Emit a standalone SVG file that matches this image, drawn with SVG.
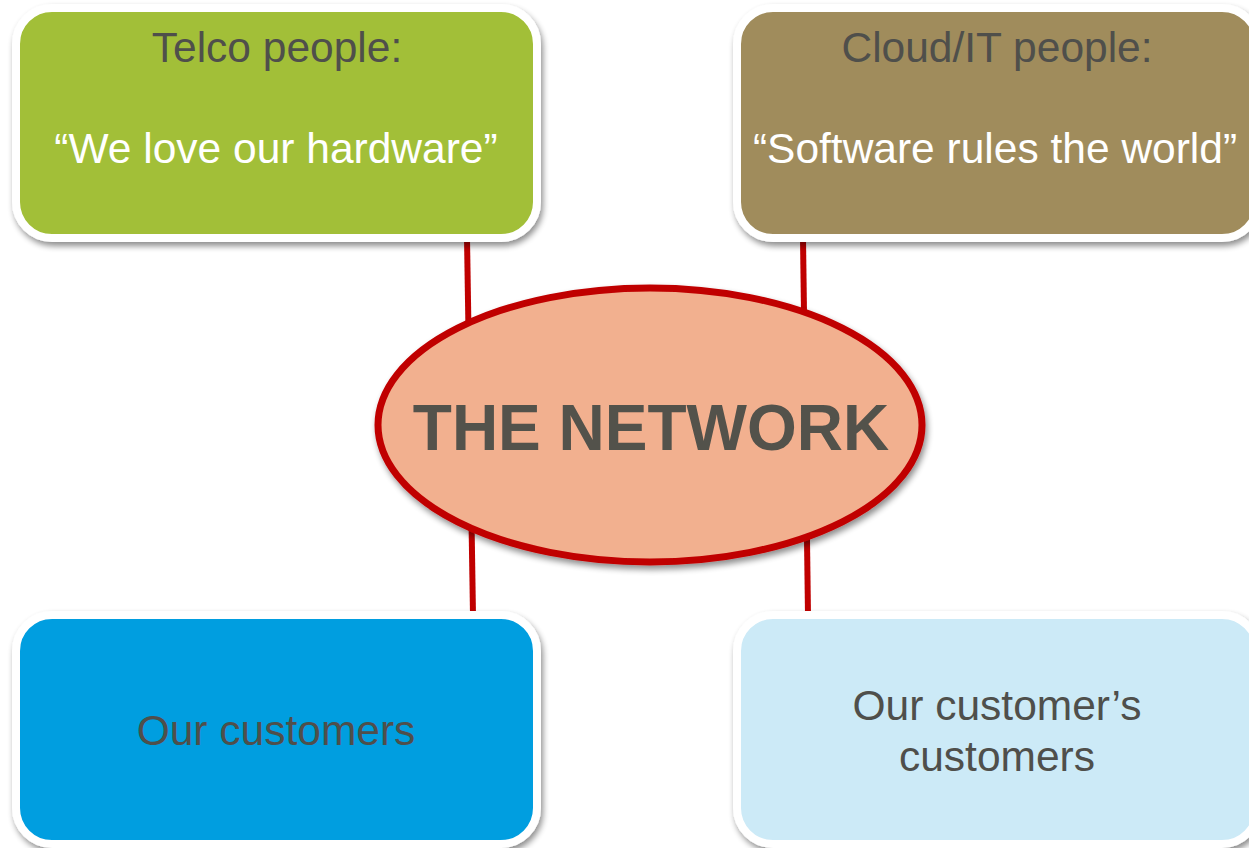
<svg xmlns="http://www.w3.org/2000/svg" width="1249" height="848" viewBox="0 0 1249 848">
<defs>
<filter id="sh" x="-10%" y="-10%" width="125%" height="130%">
<feGaussianBlur in="SourceAlpha" stdDeviation="3"/>
<feOffset dx="2" dy="4" result="b"/>
<feComponentTransfer><feFuncA type="linear" slope="0.45"/></feComponentTransfer>
<feMerge><feMergeNode/><feMergeNode in="SourceGraphic"/></feMerge>
</filter>
<style>
.box{stroke:#ffffff;stroke-width:8;filter:url(#sh)}
.t{font-family:"Liberation Sans",Arial,sans-serif;text-anchor:middle;font-size:42.5px;fill:#4f4f4b}
.w{fill:#ffffff}
.con{stroke:#c00000;stroke-width:6;fill:none}
</style>
</defs>
<rect width="1249" height="848" fill="#ffffff"/>
<g id="connectors">
<line class="con" x1="467" y1="238" x2="473" y2="615"/>
<line class="con" x1="803" y1="238" x2="808" y2="615"/>
</g>
<g id="telco">
<rect class="box" x="16" y="8" width="521" height="230" rx="36" fill="#a2bf37"/>
<text class="t" x="277" y="62">Telco people:</text>
<text class="t w" x="276" y="163">“We love our hardware”</text>
</g>
<g id="cloud">
<rect class="box" x="737" y="8" width="521" height="230" rx="36" fill="#a08c5c"/>
<text class="t" x="997" y="62">Cloud/IT people:</text>
<text class="t w" x="995" y="163">“Software rules the world”</text>
</g>
<g id="network">
<ellipse cx="650" cy="425" rx="272" ry="137" fill="#f2b08f" stroke="#c00000" stroke-width="7" filter="url(#sh)"/>
<text class="t" x="651" y="450" style="font-size:64px;font-weight:bold;fill:#53524b">THE NETWORK</text>
</g>
<g id="customers">
<rect class="box" x="16" y="615" width="521" height="229" rx="36" fill="#009ee0"/>
<text class="t" x="276" y="745">Our customers</text>
</g>
<g id="customers2">
<rect class="box" x="737" y="615" width="521" height="229" rx="36" fill="#cceaf7"/>
<text class="t" x="997" y="720">Our customer’s</text>
<text class="t" x="997" y="771">customers</text>
</g>
</svg>
